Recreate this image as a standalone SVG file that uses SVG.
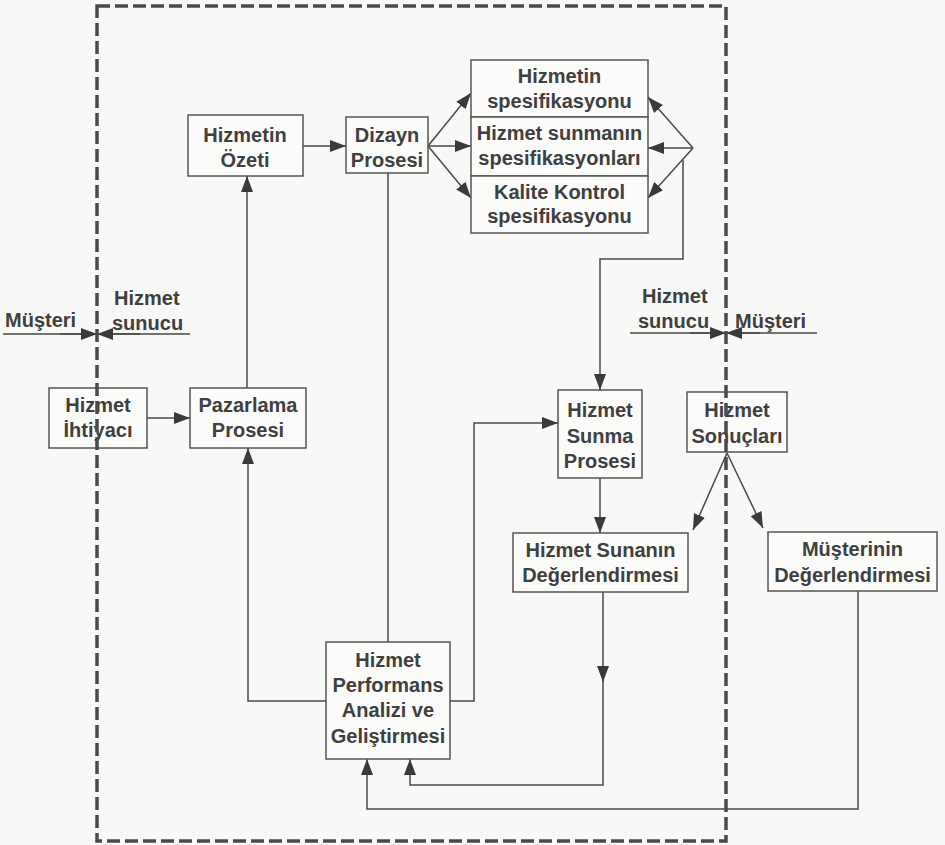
<svg xmlns="http://www.w3.org/2000/svg" width="945" height="845" viewBox="0 0 945 845">
<defs>
<marker id="ah" viewBox="0 0 16 12" refX="16" refY="6" markerWidth="16" markerHeight="12" markerUnits="userSpaceOnUse" orient="auto">
<path d="M0,0 L16,6 L0,12 Z" fill="#3a3a3a"/>
</marker>
<style>
.box{fill:#fbfbfa;stroke:#555;stroke-width:1.5}
.t{font-family:"Liberation Sans",Arial,sans-serif;font-weight:bold;font-size:20px;fill:#404040;text-anchor:middle}
.tl{font-family:"Liberation Sans",Arial,sans-serif;font-weight:bold;font-size:20px;fill:#404040}
.c{fill:none;stroke:#4a4a4a;stroke-width:1.5}
.ca{fill:none;stroke:#4a4a4a;stroke-width:1.5;marker-end:url(#ah)}
</style>
</defs>
<rect width="945" height="845" fill="#f8f8f6"/>

<g id="connectors">
<line class="ca" x1="147" y1="418" x2="190" y2="418"/>
<line class="ca" x1="247" y1="388" x2="247" y2="176"/>
<line class="ca" x1="303" y1="146" x2="346" y2="146"/>
<line class="ca" x1="428" y1="146" x2="471" y2="93"/>
<line class="ca" x1="428" y1="146" x2="471" y2="146"/>
<line class="ca" x1="428" y1="146" x2="471" y2="198"/>
<line class="ca" x1="693" y1="148" x2="648" y2="97"/>
<line class="ca" x1="693" y1="148" x2="648" y2="148"/>
<line class="ca" x1="693" y1="148" x2="648" y2="198"/>
<polyline class="ca" points="683,160 683,259 600,259 600,390"/>
<line class="c" x1="388" y1="173" x2="388" y2="642"/>
<polyline class="ca" points="450,701 474,701 474,423 558,423"/>
<polyline class="ca" points="326,701 248,701 248,448"/>
<line class="ca" x1="600" y1="478" x2="600" y2="533"/>
<line class="ca" x1="603" y1="592" x2="603" y2="682"/>
<polyline class="ca" points="603,680 603,785 410,785 410,759"/>
<polyline class="ca" points="858,591 858,809 367,809 367,759"/>
<line class="ca" x1="727" y1="453" x2="693" y2="530"/>
<line class="ca" x1="727" y1="453" x2="763" y2="528"/>
<line class="c" x1="3" y1="334" x2="190" y2="334"/>
<line class="ca" x1="60" y1="334" x2="97" y2="334"/>
<line class="ca" x1="140" y1="334" x2="97" y2="334"/>
<line class="c" x1="630" y1="333" x2="817" y2="333"/>
<line class="ca" x1="690" y1="333" x2="726" y2="333"/>
<line class="ca" x1="760" y1="333" x2="726" y2="333"/>
</g>

<g id="ihtiyac"><rect class="box" x="49" y="388" width="98" height="60"/>
<text class="t" x="98" y="412">Hizmet</text><text class="t" x="98" y="437">İhtiyacı</text></g>

<g id="pazarlama"><rect class="box" x="190" y="388" width="116" height="60"/>
<text class="t" x="248" y="412">Pazarlama</text><text class="t" x="248" y="437">Prosesi</text></g>

<g id="ozet"><rect class="box" x="188" y="115" width="115" height="61"/>
<text class="t" x="245" y="142">Hizmetin</text><text class="t" x="245" y="167">Özeti</text></g>

<g id="dizayn"><rect class="box" x="346" y="117" width="82" height="56"/>
<text class="t" x="387" y="142">Dizayn</text><text class="t" x="387" y="167">Prosesi</text></g>

<g id="spec1"><rect class="box" x="471" y="60" width="177" height="57"/>
<text class="t" x="559.5" y="83">Hizmetin</text><text class="t" x="559.5" y="108">spesifikasyonu</text></g>

<g id="spec2"><rect class="box" x="471" y="117" width="177" height="59"/>
<text class="t" x="559.5" y="140">Hizmet sunmanın</text><text class="t" x="559.5" y="165">spesifikasyonları</text></g>

<g id="spec3"><rect class="box" x="471" y="176" width="177" height="57"/>
<text class="t" x="559.5" y="199">Kalite Kontrol</text><text class="t" x="559.5" y="223">spesifikasyonu</text></g>

<g id="sunma"><rect class="box" x="558" y="390" width="84" height="88"/>
<text class="t" x="600" y="417">Hizmet</text><text class="t" x="600" y="443">Sunma</text><text class="t" x="600" y="468">Prosesi</text></g>

<g id="sonuclar"><rect class="box" x="687" y="392" width="100" height="60"/>
<text class="t" x="737" y="417">Hizmet</text><text class="t" x="737" y="443">Sonuçları</text></g>

<g id="sunanin"><rect class="box" x="513" y="533" width="175" height="59"/>
<text class="t" x="600.5" y="557">Hizmet Sunanın</text><text class="t" x="600.5" y="582">Değerlendirmesi</text></g>

<g id="musterinin"><rect class="box" x="768" y="532" width="169" height="59"/>
<text class="t" x="852.5" y="556">Müşterinin</text><text class="t" x="852.5" y="582">Değerlendirmesi</text></g>

<g id="performans"><rect class="box" x="326" y="642" width="124" height="117"/>
<text class="t" x="388" y="667">Hizmet</text><text class="t" x="388" y="692">Performans</text><text class="t" x="388" y="717">Analizi ve</text><text class="t" x="388" y="743">Geliştirmesi</text></g>

<g id="labels">
<text class="tl" x="5" y="327">Müşteri</text>
<text class="tl" x="114" y="305">Hizmet</text>
<text class="tl" x="112" y="330">sunucu</text>
<text class="tl" x="642" y="303">Hizmet</text>
<text class="tl" x="638" y="328">sunucu</text>
<text class="tl" x="735" y="328">Müşteri</text>
</g>

<g id="boundary">
<rect x="97" y="6" width="629" height="835" fill="none" stroke="#4a4a4a" stroke-width="3.5" stroke-dasharray="13,5"/>
</g>
</svg>
